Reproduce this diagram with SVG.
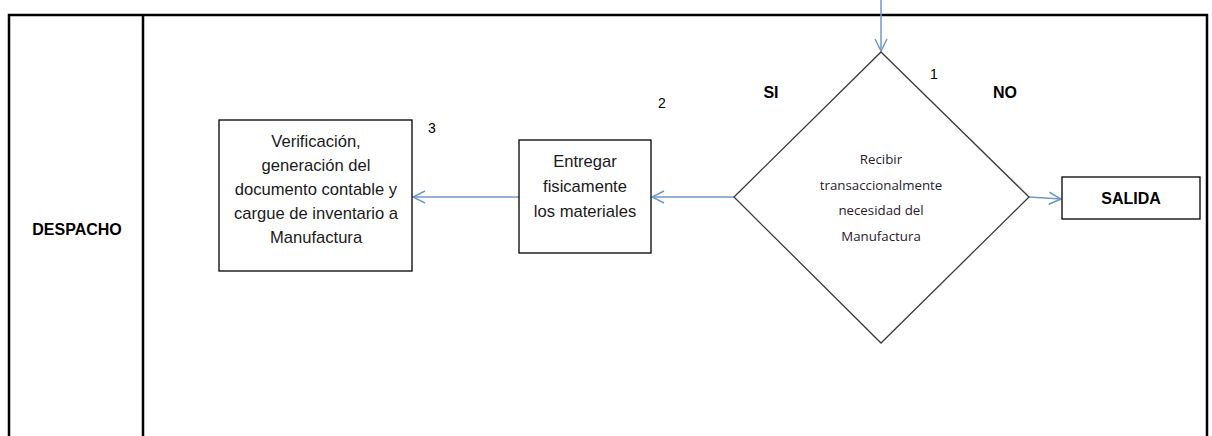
<svg xmlns="http://www.w3.org/2000/svg" width="1212" height="436" viewBox="0 0 1212 436">
<style>
.frame{fill:none;stroke:#000;stroke-width:2.5}
.box{fill:#fff;stroke:#000;stroke-width:1.3}
.dia{fill:#fff;stroke:#3a3a3a;stroke-width:1.3}
.t{font-family:"Liberation Sans",Arial,sans-serif;font-size:16.6px;fill:#1a1a1a;text-anchor:middle}
.b{font-family:"Liberation Sans",Arial,sans-serif;font-weight:bold;font-size:16px;fill:#000;text-anchor:middle}
.s{font-family:"Open Sans","Liberation Sans",sans-serif;font-size:13.3px;fill:#2a1a2a;text-anchor:middle}
.n{font-family:"Liberation Sans",Arial,sans-serif;font-size:14px;fill:#000;text-anchor:middle}
.c{fill:none;stroke:#6f98c8;stroke-width:1.5}
</style>
<defs>
<marker id="ah" viewBox="0 0 14 14" refX="13" refY="7" markerWidth="14" markerHeight="14" markerUnits="userSpaceOnUse" orient="auto">
<path d="M1,1 L13,7 L1,13" fill="none" stroke="#6f98c8" stroke-width="1.5"/>
</marker>
</defs>
<g id="lanes">
<path class="frame" d="M9,436 V15 H1207 V436"/>
<line class="frame" x1="143" y1="15" x2="143" y2="436"/>
<text class="b" x="77" y="235">DESPACHO</text>
</g>
<g id="connectors">
<line class="c" x1="881" y1="0" x2="881" y2="51" marker-end="url(#ah)"/>
<line class="c" x1="734" y1="197" x2="652" y2="197" marker-end="url(#ah)"/>
<line class="c" x1="519" y1="197" x2="413" y2="197" marker-end="url(#ah)"/>
<polyline class="c" points="1029,197 1045,198 1061,199" marker-end="url(#ah)"/>
</g>
<g id="n1">
<polygon class="dia" points="881,52 1029,197 881,343 734,197"/>
<text class="s" x="881" y="164">Recibir</text>
<text class="s" x="881" y="190">transaccionalmente</text>
<text class="s" x="881" y="215">necesidad del</text>
<text class="s" x="881" y="241">Manufactura</text>
<text class="n" x="934" y="79">1</text>
<text class="b" x="771" y="98">SI</text>
<text class="b" x="1005" y="98">NO</text>
</g>
<g id="n2">
<rect class="box" x="519" y="140" width="132" height="113"/>
<text class="t" x="585" y="167">Entregar</text>
<text class="t" x="585" y="192">fisicamente</text>
<text class="t" x="585" y="217">los materiales</text>
<text class="n" x="662" y="108">2</text>
</g>
<g id="n3">
<rect class="box" x="219" y="120" width="193" height="151"/>
<text class="t" x="316" y="147">Verificación,</text>
<text class="t" x="316" y="171">generación del</text>
<text class="t" x="316" y="195">documento contable y</text>
<text class="t" x="316" y="219">cargue de inventario a</text>
<text class="t" x="316" y="243">Manufactura</text>
<text class="n" x="432" y="133">3</text>
</g>
<g id="salida">
<rect class="box" x="1062" y="177" width="138" height="42"/>
<text class="b" x="1131" y="204">SALIDA</text>
</g>
</svg>
